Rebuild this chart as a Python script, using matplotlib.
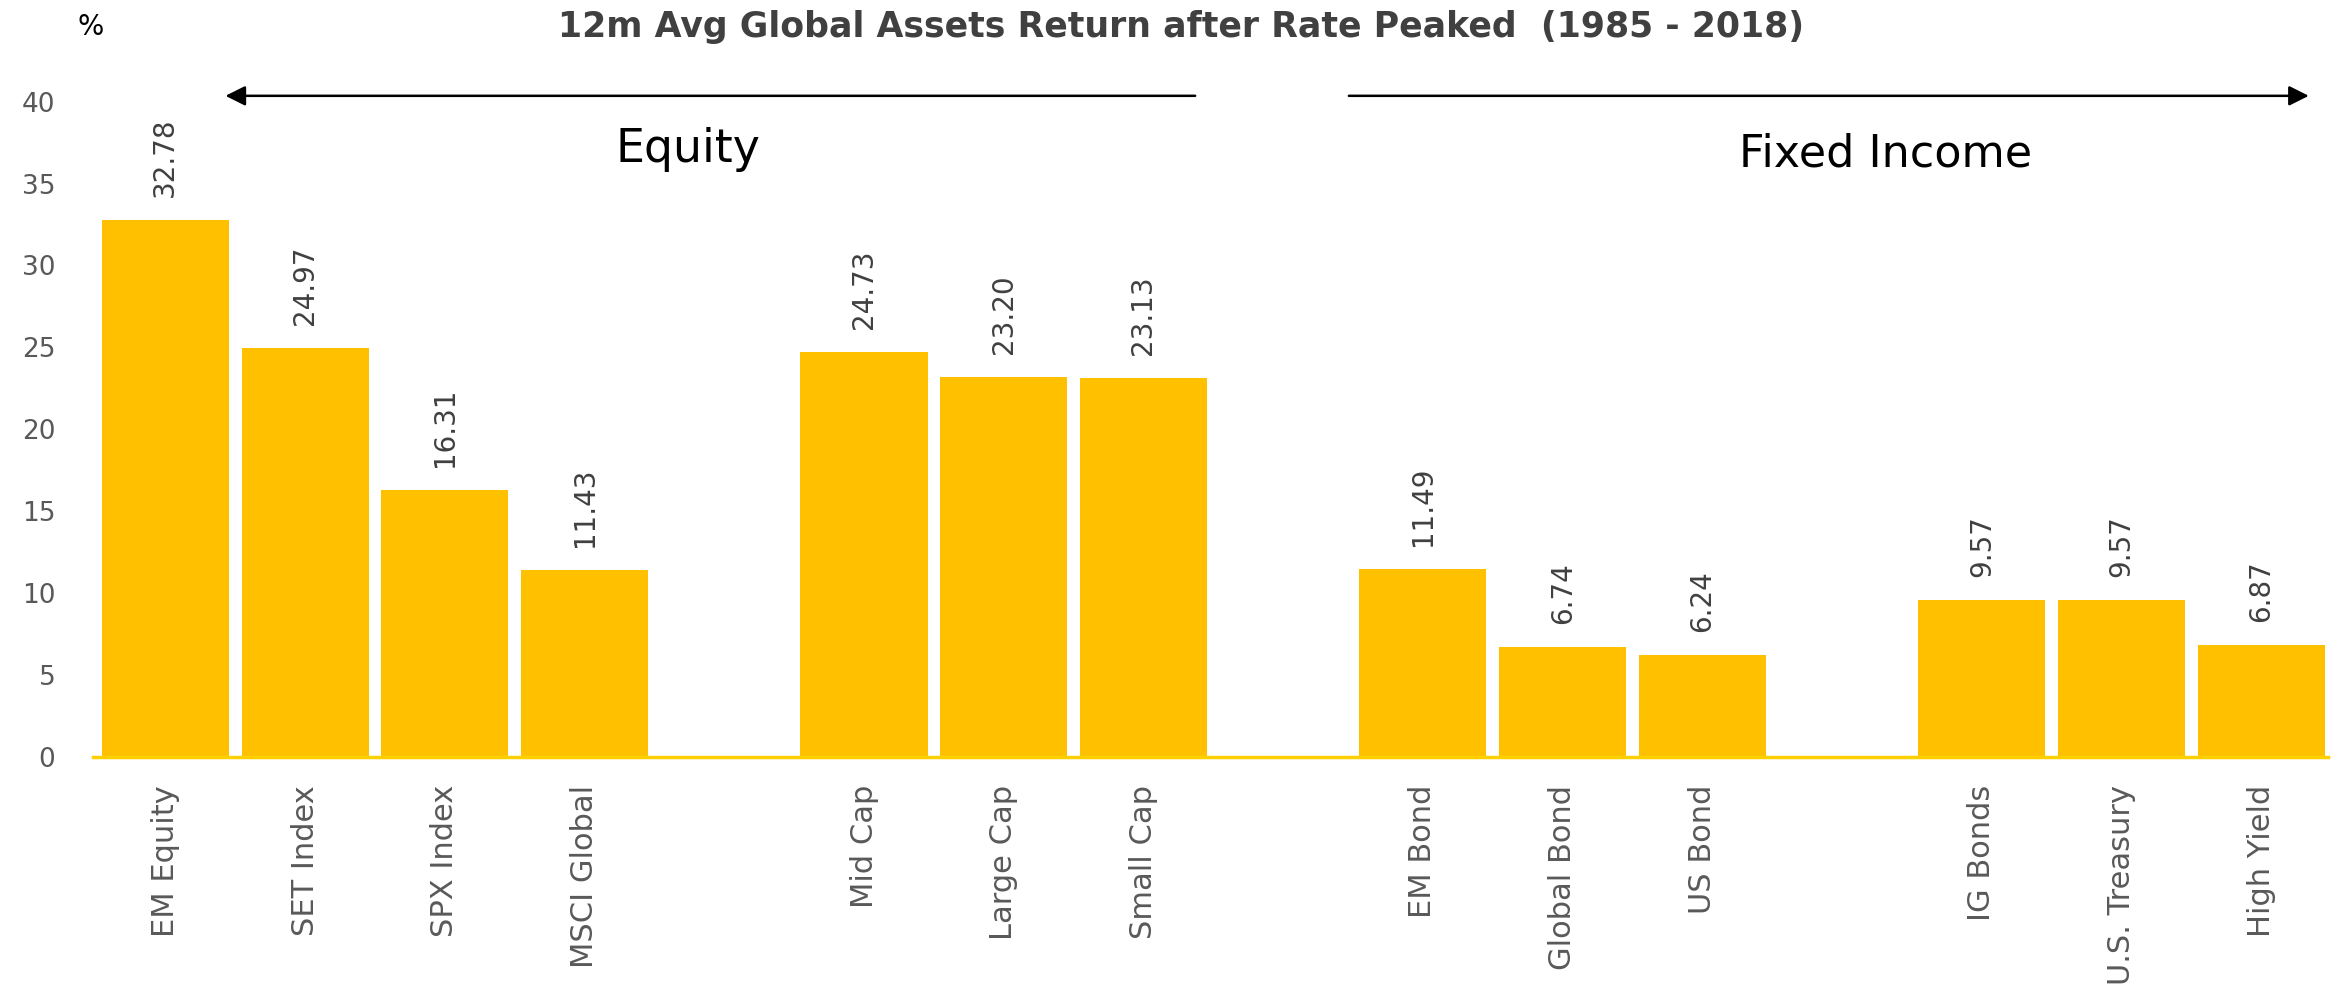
import matplotlib

matplotlib.use("Agg")
import matplotlib.pyplot as plt

# slots with "" are empty gaps between groups
categories = [
    "EM Equity", "SET Index", "SPX Index", "MSCI Global", "",
    "Mid Cap", "Large Cap", "Small Cap", "",
    "EM Bond", "Global Bond", "US Bond", "",
    "IG Bonds", "U.S. Treasury", "High Yield",
]
returns = [
    32.78, 24.97, 16.31, 11.43, None,
    24.73, 23.20, 23.13, None,
    11.49, 6.74, 6.24, None,
    9.57, 9.57, 6.87,
]
value_labels = [
    "32.78", "24.97", "16.31", "11.43", "",
    "24.73", "23.20", "23.13", "",
    "11.49", "6.74", "6.24", "",
    "9.57", "9.57", "6.87",
]
yticks = [0, 5, 10, 15, 20, 25, 30, 35, 40]

GOLD = "#FFC000"
GREY = "#595959"
DARK = "#404040"

plt.rcParams["font.family"] = ["DejaVu Sans"]

fig = plt.figure(figsize=(23.41, 9.86), dpi=100)
ax = fig.add_axes([0.0396, 0.232, 0.955, 0.665])

xs = list(range(len(categories)))
heights = [v if v is not None else 0 for v in returns]
ax.bar(xs, heights, width=0.91, color=GOLD, zorder=2)

for x, v, lab in zip(xs, returns, value_labels):
    if v is None:
        continue
    ax.text(x, v + 1.4, lab, rotation=90, ha="center", va="bottom",
            fontsize=20, color=DARK)

ax.set_xlim(-0.52, 15.48)
ax.set_ylim(0, 40)
ax.set_yticks(yticks)
ax.set_yticklabels([str(t) for t in yticks], fontsize=19, color=GREY)
ax.set_xticks(xs)
ax.set_xticklabels(categories, rotation=90, fontsize=22, color=GREY)
ax.tick_params(axis="y", length=0, pad=27)
ax.tick_params(axis="x", length=0, pad=20)
for side in ["top", "right", "left"]:
    ax.spines[side].set_visible(False)
ax.spines["bottom"].set_color("#FFD000")
ax.spines["bottom"].set_linewidth(2.5)

# group arrows
arrow_y = 40.35
ax.annotate("", xy=(0.43, arrow_y), xytext=(7.37, arrow_y),
            arrowprops=dict(arrowstyle="-|>", color="black", lw=1.8,
                            mutation_scale=30, shrinkA=0, shrinkB=0),
            annotation_clip=False)
ax.annotate("", xy=(15.34, arrow_y), xytext=(8.47, arrow_y),
            arrowprops=dict(arrowstyle="-|>", color="black", lw=1.8,
                            mutation_scale=30, shrinkA=0, shrinkB=0),
            annotation_clip=False)
ax.text(3.74, 37.1, "Equity", ha="center", va="center", fontsize=33,
        color="black")
ax.text(12.31, 36.8, "Fixed Income", ha="center", va="center", fontsize=32,
        color="black")

fig.text(0.5046, 0.973, "12m Avg Global Assets Return after Rate Peaked  (1985 - 2018)",
         ha="center", va="center", fontsize=25, fontweight="bold", color=DARK)
fig.text(0.0385, 0.973, "%", ha="center", va="center", fontsize=20, color="black")

fig.savefig("out.png", dpi=100)
plt.close(fig)
